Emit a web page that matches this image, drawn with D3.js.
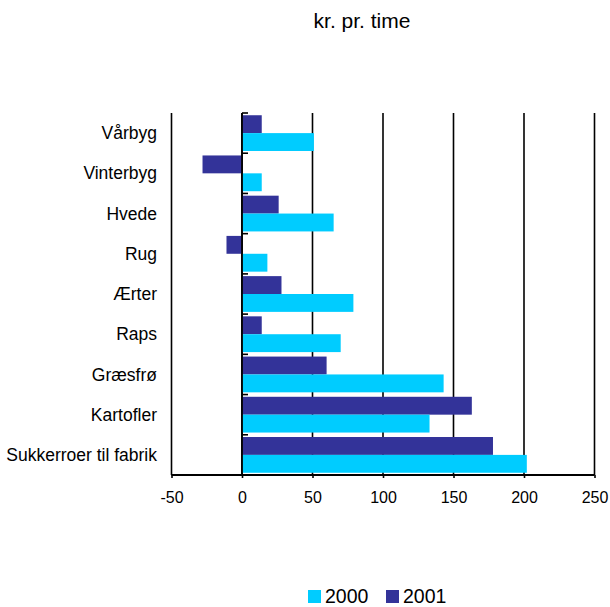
<!DOCTYPE html>
<html><head><meta charset="utf-8">
<script src="https://cdn.jsdelivr.net/npm/d3@7"></script>
<style>body{margin:0;background:#fff}svg{display:block;font-family:"Liberation Sans",Arial,sans-serif}</style>
</head><body>
<svg id="c" width="610" height="607"></svg>
<script>
const categories = ["Vårbyg","Vinterbyg","Hvede","Rug","Ærter","Raps","Græsfrø","Kartofler","Sukkerroer til fabrik"];
const values2000 = [51, 14, 65, 18, 79, 70, 143, 133, 202];
const values2001 = [14, -28, 26, -11, 28, 14, 60, 163, 178];
const seriesNames = ["2000","2001"];
const xTicks = [-50, 0, 50, 100, 150, 200, 250];
const colors = {"2000":"#00CCFF","2001":"#333399"};

const svg = d3.select("#c");
const L = 171.5, R = 594.5, T = 113, B = 475;
const x = d3.scaleLinear().domain([-50,250]).range([L,R]);
const y = d3.scaleBand().domain(categories).range([T,B]);
const inner = d3.scaleBand().domain(["2001","2000"]).range([0, y.bandwidth()]).paddingOuter(0.125).paddingInner(0);

// gridlines
svg.append("g").selectAll("line").data(xTicks).join("line")
  .attr("x1", d=>x(d)).attr("x2", d=>x(d)).attr("y1", T).attr("y2", B)
  .attr("stroke","#000").attr("stroke-width",1.6);

// bars
const rows = categories.map((c,i)=>({c, v:{"2000":values2000[i],"2001":values2001[i]}}));
const g = svg.append("g");
rows.forEach(r=>{
  ["2001","2000"].forEach(s=>{
    const v = r.v[s];
    g.append("rect")
      .attr("x", x(Math.min(0,v))).attr("width", Math.abs(x(v)-x(0)))
      .attr("y", y(r.c)+inner(s)).attr("height", inner.bandwidth())
      .attr("fill", colors[s]);
  });
});

// zero axis with category ticks
svg.append("line").attr("x1",x(0)).attr("x2",x(0)).attr("y1",T).attr("y2",B).attr("stroke","#000").attr("stroke-width",1.8);
const bounds = categories.map(c=>y(c));
svg.append("g").selectAll("line").data(bounds).join("line")
  .attr("x1",x(0)).attr("x2",x(0)+6).attr("y1",d=>d).attr("y2",d=>d)
  .attr("stroke","#000").attr("stroke-width",1.6);

// bottom axis
const ax = svg.append("g").attr("transform",`translate(0,${B})`)
  .call(d3.axisBottom(x).tickValues(xTicks).tickSize(3).tickPadding(14).tickFormat(d=>String(d)));
ax.select(".domain").attr("stroke-width",1.8).attr("d",`M${L},0H${R}`);
ax.selectAll(".tick line").attr("stroke-width",1.6);
ax.selectAll("text").attr("font-size",16).attr("font-family","Liberation Sans, Arial, sans-serif").attr("fill","#000");

// category labels
svg.append("g").selectAll("text").data(categories).join("text")
  .attr("x",157).attr("y",d=>y(d)+y.bandwidth()/2).attr("dy","0.35em")
  .attr("text-anchor","end").attr("font-size",17.5).text(d=>d);

// title
svg.append("text").attr("x",362).attr("y",28).attr("text-anchor","middle").attr("font-size",21).text("kr. pr. time");

// legend
const lg = svg.append("g");
const legendItems = [{s:"2000",x:308},{s:"2001",x:386}];
legendItems.forEach(it=>{
  lg.append("rect").attr("x",it.x).attr("y",590).attr("width",13).attr("height",13).attr("fill",colors[it.s]);
  lg.append("text").attr("x",it.x+17).attr("y",603).attr("font-size",19.5).text(it.s);
});
</script>
</body></html>
